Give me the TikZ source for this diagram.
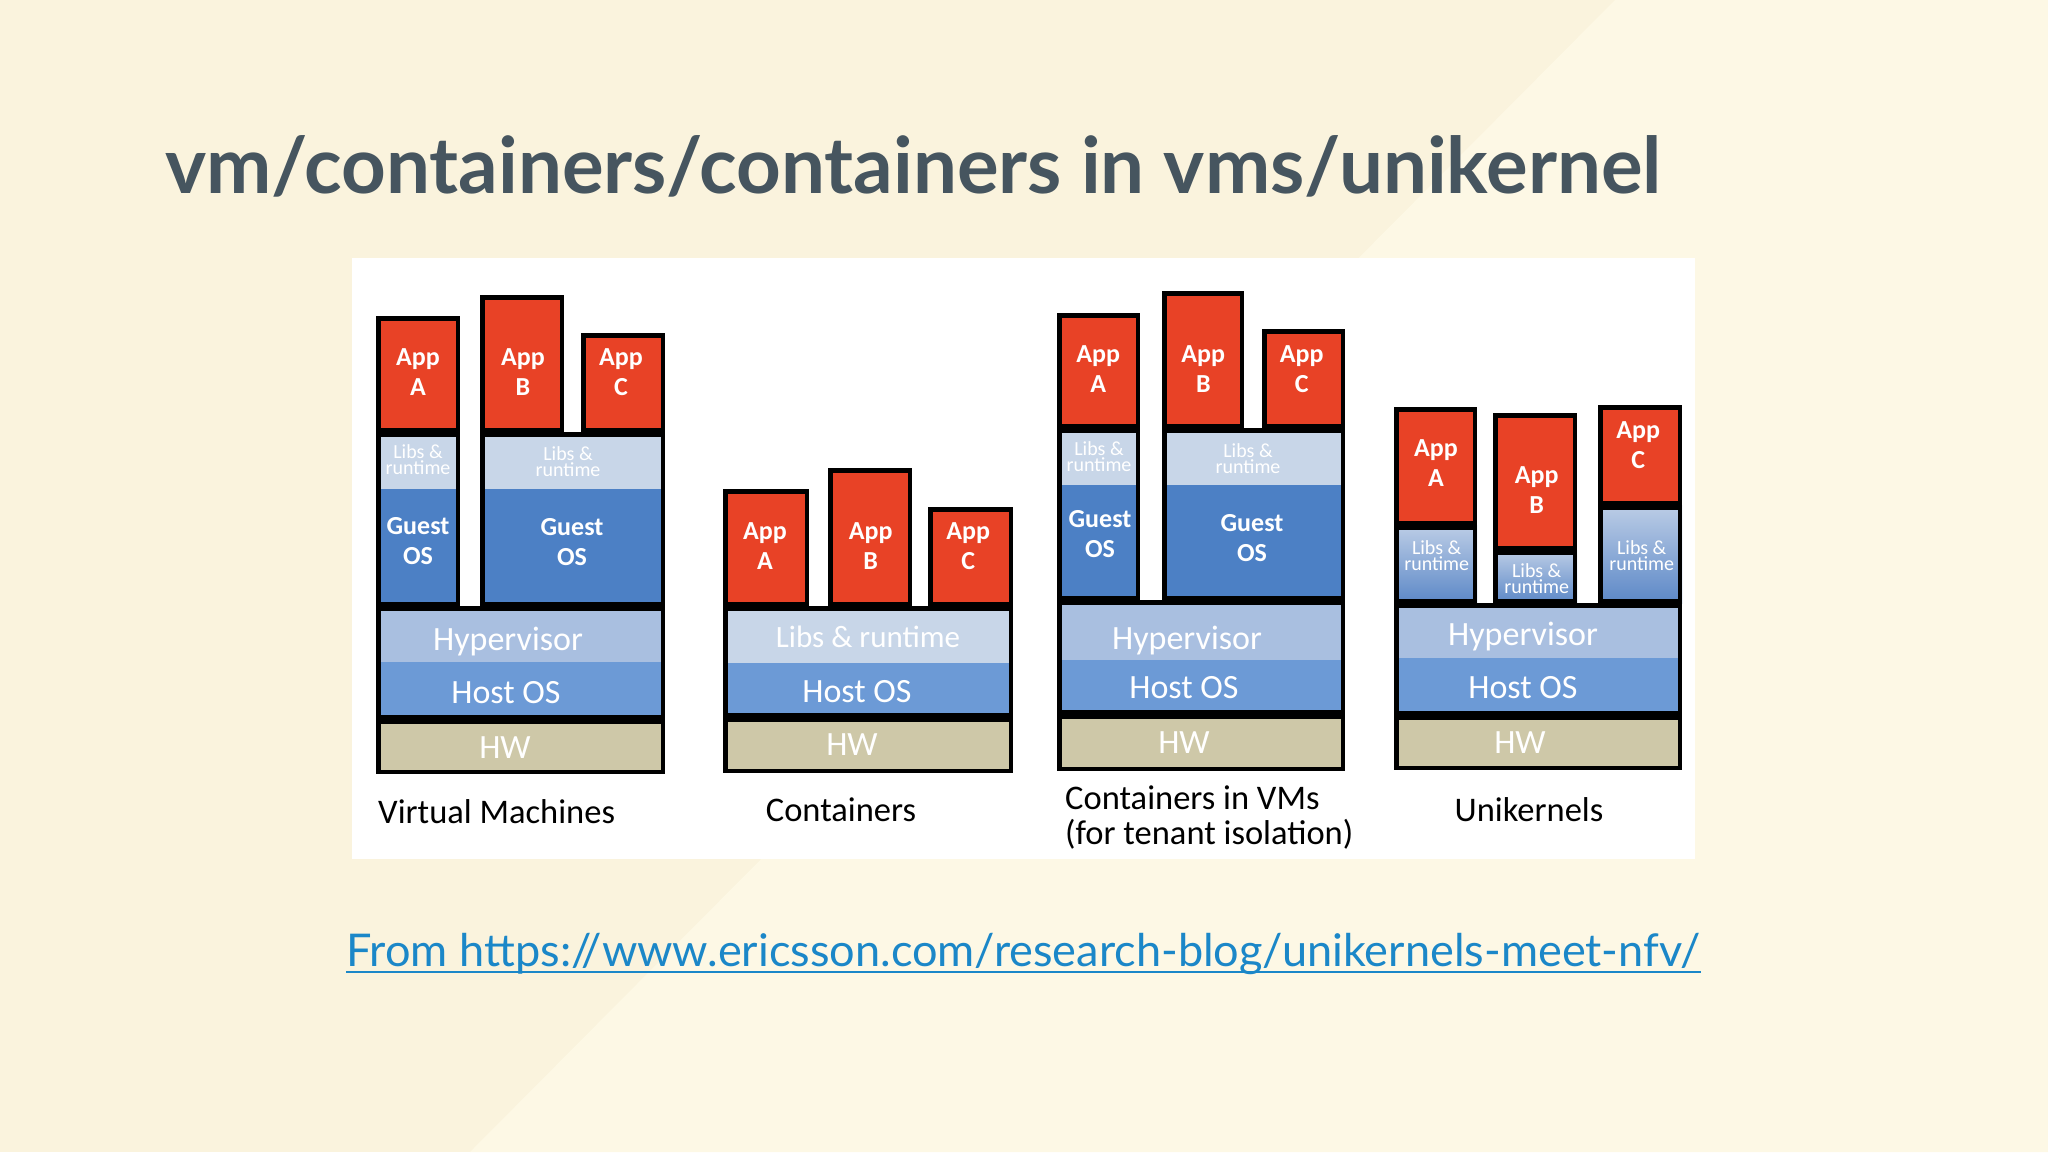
\documentclass[tikz,border=0pt]{standalone}
\usepackage{fontspec}
\setmainfont{Carlito}
\newfontfamily\lato{Lato}
\definecolor{bgbase}{RGB}{250,243,221}
\definecolor{bglight}{RGB}{253,248,229}
\definecolor{titlecol}{RGB}{70,85,95}
\definecolor{linkblue}{RGB}{27,135,200}
\definecolor{appred}{RGB}{232,66,38}
\definecolor{libsL}{RGB}{200,214,232}
\definecolor{guest}{RGB}{76,128,197}
\definecolor{hyp}{RGB}{169,191,224}
\definecolor{host}{RGB}{108,154,214}
\definecolor{hw}{RGB}{206,200,168}
\definecolor{uniTop}{RGB}{188,205,230}
\definecolor{uniBot}{RGB}{92,136,199}
\newcommand\frm[4]{\draw[frame] ({#1+2.25},{#2+2.25}) rectangle ({#3-2.25},{#4-2.25});}
\newcommand\fil[5]{\fill[#5] (#1,#2) rectangle (#3,#4);}
\begin{document}
\begin{tikzpicture}[x=1pt,y=-1pt,
  frame/.style={draw=black,line width=4.5pt},
  apptxt/.style={text=white,font=\bfseries\fontsize{26}{30}\selectfont,align=center,inner sep=0pt},
  libtxt/.style={text=white,font=\fontsize{20}{16}\selectfont,align=center,inner sep=0pt},
  ostxt/.style={text=white,font=\bfseries\fontsize{26}{30}\selectfont,align=center,inner sep=0pt},
  bigtxt/.style={text=white,font=\fontsize{34}{40}\selectfont,anchor=base,inner sep=0pt},
  lbl/.style={text=black,font=\fontsize{34.5}{38}\selectfont,inner sep=0pt}]
\useasboundingbox (0,0) rectangle (2048,1152);
\fill[bgbase] (0,0) rectangle (2048,1152);
\fill[bglight] (1615,0) -- (2048,0) -- (2048,1152) -- (470,1152) -- cycle;
\fill[white] (352,258) rectangle (1695,859);

\node[anchor=base west,inner sep=0pt,font=\lato\bfseries\fontsize{78}{94}\selectfont,text=titlecol] (title) at (165,193) {vm/containers/containers in vms/unikernel};
\node[anchor=base west,inner sep=0pt,font=\lato\fontsize{45.1}{52}\selectfont,text=linkblue] (link) at (346,966) {From https://www.ericsson.com/research-blog/unikernels-meet-nfv/};
\draw[linkblue,line width=2.5pt] ([yshift=-6pt]link.base west) -- ([yshift=-6pt]link.base east);

% ---------- Virtual Machines
\fil{376}{316}{460}{432}{appred}\frm{376}{316}{460}{432}
\fil{480}{295}{564}{432}{appred}\frm{480}{295}{564}{432}
\fil{581}{333}{665}{432}{appred}\frm{581}{333}{665}{432}
\fil{376}{432}{460}{606}{guest}\fil{376}{432}{460}{489}{libsL}\frm{376}{432}{460}{606}
\fil{480}{432}{665}{606}{guest}\fil{480}{432}{665}{489}{libsL}\frm{480}{432}{665}{606}
\fil{376}{606}{665}{719}{host}\fil{376}{606}{665}{662}{hyp}\frm{376}{606}{665}{719}
\fil{376}{719}{665}{774}{hw}\frm{376}{719}{665}{774}
\node[apptxt] (vmAa) at (418,372.4) {App\\A};
\node[apptxt] (vmAb) at (523,372.4) {App\\B};
\node[apptxt] (vmAc) at (621,372.4) {App\\C};
\node[libtxt] (vmLa) at (418,460) {Libs \&\\runtime};
\node[libtxt] (vmLb) at (568,462) {Libs \&\\runtime};
\node[ostxt] (vmGa) at (418,541) {Guest\\OS};
\node[ostxt] (vmGb) at (572,542) {Guest\\OS};
\node[bigtxt] (vmHyp) at (508,650) {Hypervisor};
\node[bigtxt] (vmHost) at (506,703.5) {Host OS};
\node[bigtxt] (vmHW) at (505,758) {HW};
\node[lbl,anchor=base west] (vmLbl) at (378,823) {Virtual Machines};

% ---------- Containers
\fil{723}{489}{809}{606}{appred}\frm{723}{489}{809}{606}
\fil{828}{468}{912}{606}{appred}\frm{828}{468}{912}{606}
\fil{928}{507}{1013}{606}{appred}\frm{928}{507}{1013}{606}
\fil{723}{606}{1013}{717}{host}\fil{723}{606}{1013}{663}{libsL}\frm{723}{606}{1013}{717}
\fil{723}{717}{1013}{773}{hw}\frm{723}{717}{1013}{773}
\node[apptxt] (ctAa) at (765,545.8) {App\\A};
\node[apptxt] (ctAb) at (870.7,545.8) {App\\B};
\node[apptxt] (ctAc) at (968.3,545.8) {App\\C};
\node[bigtxt,font=\fontsize{31}{36}\selectfont] (ctLib) at (868,647.3) {Libs \& runtime};
\node[bigtxt] (ctHost) at (857,702.3) {Host OS};
\node[bigtxt] (ctHW) at (852,755) {HW};
\node[lbl,anchor=base] (ctLbl) at (841,821) {Containers};

% ---------- Containers in VMs
\fil{1057}{313}{1140}{428}{appred}\frm{1057}{313}{1140}{428}
\fil{1162}{291}{1244}{428}{appred}\frm{1162}{291}{1244}{428}
\fil{1262}{329}{1345}{428}{appred}\frm{1262}{329}{1345}{428}
\fil{1057}{428}{1140}{600}{guest}\fil{1057}{428}{1140}{485}{libsL}\frm{1057}{428}{1140}{600}
\fil{1162}{428}{1345}{600}{guest}\fil{1162}{428}{1345}{485}{libsL}\frm{1162}{428}{1345}{600}
\fil{1057}{600}{1345}{714}{host}\fil{1057}{600}{1345}{660}{hyp}\frm{1057}{600}{1345}{714}
\fil{1057}{714}{1345}{771}{hw}\frm{1057}{714}{1345}{771}
\node[apptxt] (cvAa) at (1098.3,368.8) {App\\A};
\node[apptxt] (cvAb) at (1203.3,368.8) {App\\B};
\node[apptxt] (cvAc) at (1301.7,368.8) {App\\C};
\node[libtxt] (cvLa) at (1099,457) {Libs \&\\runtime};
\node[libtxt] (cvLb) at (1248,458.4) {Libs \&\\runtime};
\node[ostxt] (cvGa) at (1100,534) {Guest\\OS};
\node[ostxt] (cvGb) at (1252,538.3) {Guest\\OS};
\node[bigtxt] (cvHyp) at (1187,649) {Hypervisor};
\node[bigtxt] (cvHost) at (1184,698.6) {Host OS};
\node[bigtxt] (cvHW) at (1184,753) {HW};
\node[lbl,font=\fontsize{34.5}{34.6}\selectfont,align=left,anchor=base west] (cvLbl) at (1065,844.3) {Containers in VMs\\(for tenant isolation)};

% ---------- Unikernels
\fil{1394}{407}{1477}{525}{appred}\frm{1394}{407}{1477}{525}
\fil{1394}{525}{1477}{603}{top color=uniTop,bottom color=uniBot}\frm{1394}{525}{1477}{603}
\fil{1493}{413}{1577}{550}{appred}\frm{1493}{413}{1577}{550}
\fil{1493}{550}{1577}{603}{top color=uniTop,bottom color=uniBot}\frm{1493}{550}{1577}{603}
\fil{1598}{405}{1682}{505}{appred}\frm{1598}{405}{1682}{505}
\fil{1598}{505}{1682}{603}{top color=uniTop,bottom color=uniBot}\frm{1598}{505}{1682}{603}
\fil{1394}{603}{1682}{715}{host}\fil{1394}{603}{1682}{658}{hyp}\frm{1394}{603}{1682}{715}
\fil{1394}{715}{1682}{770}{hw}\frm{1394}{715}{1682}{770}
\node[apptxt] (ukAa) at (1436,463.3) {App\\A};
\node[apptxt] (ukAb) at (1536.7,490.3) {App\\B};
\node[apptxt] (ukAc) at (1638.3,445) {App\\C};
\node[libtxt] (ukLa) at (1436.7,555.8) {Libs \&\\runtime};
\node[libtxt] (ukLb) at (1536.7,578.3) {Libs \&\\runtime};
\node[libtxt] (ukLc) at (1641.7,555.8) {Libs \&\\runtime};
\node[bigtxt] (ukHyp) at (1523,645) {Hypervisor};
\node[bigtxt] (ukHost) at (1523,698.3) {Host OS};
\node[bigtxt] (ukHW) at (1520,753.3) {HW};
\node[lbl,anchor=base] (ukLbl) at (1529,821) {Unikernels};
\end{tikzpicture}
\end{document}
